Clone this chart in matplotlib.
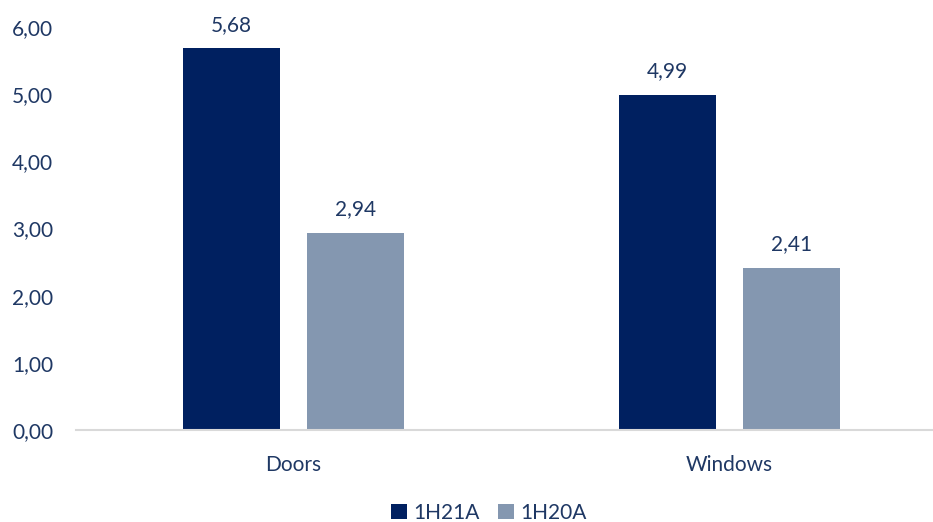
import matplotlib
matplotlib.use("Agg")
import matplotlib.pyplot as plt
import numpy as np

categories = ["Doors", "Windows"]
series_names = ["1H21A", "1H20A"]
values_1h21a = [5.68, 4.99]
values_1h20a = [2.94, 2.41]
y_ticks = [0, 1, 2, 3, 4, 5, 6]

plt.rcParams['font.family'] = ['Lato', 'DejaVu Sans']
txt = '#1F3864'
c1 = '#002060'
c2 = '#8497B0'

fig = plt.figure(figsize=(9.33, 5.22), dpi=100)
ax = fig.add_axes([75.5/933, 92/522, 872/933, 403/522])

x = np.arange(len(categories))
w = 0.2225
off = 0.142
b1 = ax.bar(x - off, values_1h21a, w, color=c1, label=series_names[0])
b2 = ax.bar(x + off, values_1h20a, w, color=c2, label=series_names[1])

def fmt(v):
    return f"{v:.2f}".replace('.', ',')

for bars, vals in ((b1, values_1h21a), (b2, values_1h20a)):
    for r, v in zip(bars, vals):
        ax.annotate(fmt(v), (r.get_x() + r.get_width()/2, v), xytext=(0, 10),
                    textcoords='offset points', ha='center', va='bottom',
                    fontsize=15, color=txt)

ax.set_xlim(-0.5, 1.5)
ax.set_ylim(0, 6)
ax.set_yticks(y_ticks)
ax.set_yticklabels([fmt(t) for t in y_ticks], fontsize=15, color=txt)
ax.set_xticks(x)
ax.set_xticklabels(categories, fontsize=15, color=txt)
ax.tick_params(axis='both', length=0)
ax.tick_params(axis='y', pad=16)
ax.tick_params(axis='x', pad=18)
for s in ['top', 'right', 'left']:
    ax.spines[s].set_visible(False)
ax.spines['bottom'].set_color('#D9D9D9')
ax.spines['bottom'].set_linewidth(1.5)

leg = fig.legend(handles=[b1, b2], labels=series_names, loc='center',
                 bbox_to_anchor=(489/933, 1 - 513/522), ncol=2, frameon=False,
                 fontsize=15, handlelength=0.75, handleheight=0.75,
                 handletextpad=0.3, columnspacing=0.9)
for t in leg.get_texts():
    t.set_color(txt)

fig.savefig("out.png", dpi=100)
